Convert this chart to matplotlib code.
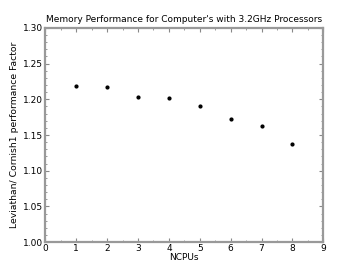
import matplotlib
matplotlib.use("Agg")
import matplotlib.pyplot as plt
from matplotlib.ticker import MultipleLocator, FormatStrFormatter

ncpus = [1, 2, 3, 4, 5, 6, 7, 8]
factor = [1.218, 1.217, 1.203, 1.202, 1.190, 1.172, 1.162, 1.138]

fig = plt.figure(figsize=(3.6, 2.7), dpi=100)
ax = fig.add_axes([0.126, 0.103, 0.772, 0.794])
ax.plot(ncpus, factor, 'o', color='black', markersize=2.0)
ax.set_xlim(0, 9)
ax.set_ylim(1.00, 1.30)
ax.xaxis.set_major_locator(MultipleLocator(1))
ax.xaxis.set_minor_locator(MultipleLocator(0.5))
ax.yaxis.set_major_locator(MultipleLocator(0.05))
ax.yaxis.set_minor_locator(MultipleLocator(0.01))
ax.yaxis.set_major_formatter(FormatStrFormatter('%.2f'))
for s in ax.spines.values():
    s.set_color('#999999')
    s.set_linewidth(1.6)
ax.tick_params(which='both', direction='in', top=True, right=True, color='#888888',
               labelsize=6.5, pad=1.5)
ax.tick_params(which='major', length=3, width=0.8)
ax.tick_params(which='minor', length=1.5, width=0.6)
ax.set_xlabel('NCPUs', fontsize=6.5, labelpad=0)
ax.set_ylabel('Leviathan/ Cornish1 performance Factor', fontsize=6.7, labelpad=3)
ax.set_title("Memory Performance for Computer's with 3.2GHz Processors", fontsize=6.5, pad=4)
fig.savefig('out.png', dpi=100)
